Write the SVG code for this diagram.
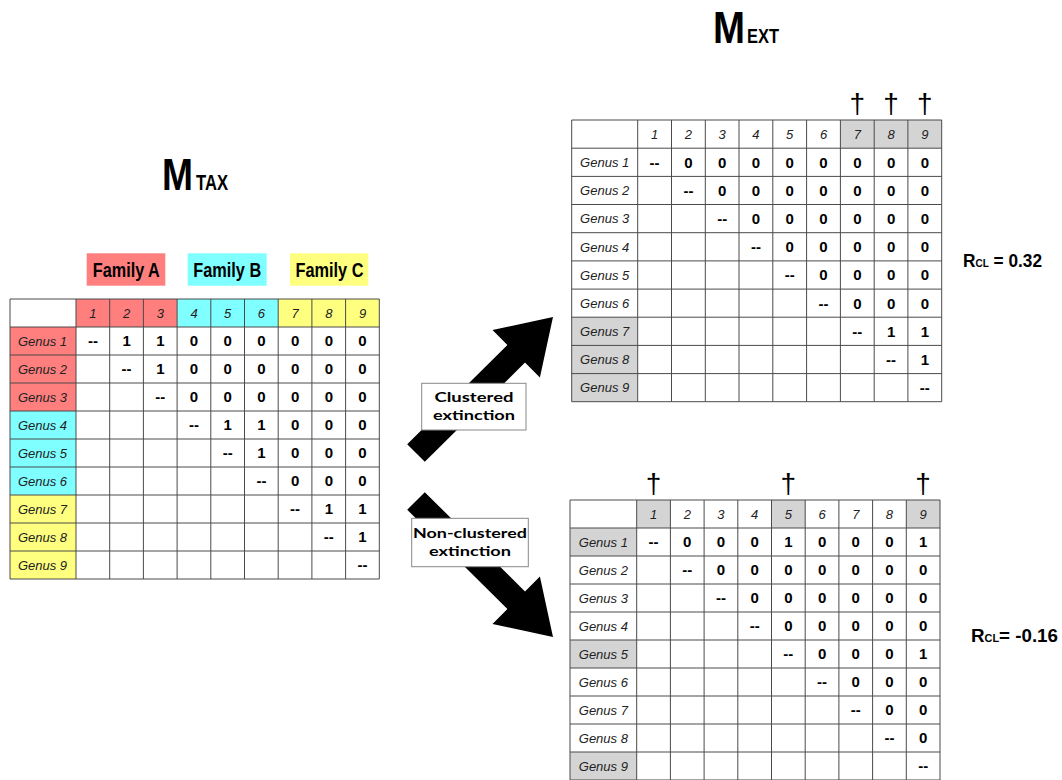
<svg xmlns="http://www.w3.org/2000/svg" width="1062" height="780" viewBox="0 0 1062 780">
<style>
.grid{fill:none;stroke:#4a4a4a;stroke-width:1}
.num{font-family:"Liberation Sans",Arial,sans-serif;font-weight:bold;font-size:15px;text-anchor:middle;fill:#000}
.hdr{font-family:"Liberation Sans",Arial,sans-serif;font-style:italic;font-size:13px;text-anchor:middle;fill:#222}
.gen{font-family:"Liberation Sans",Arial,sans-serif;font-style:italic;font-size:13px;text-anchor:middle;fill:#222}
.title{font-family:"Liberation Sans",Arial,sans-serif;font-weight:bold;fill:#000}
.fam{font-family:"Liberation Sans",Arial,sans-serif;font-weight:bold;font-size:20px;text-anchor:middle;fill:#000}
.dag{font-family:"Liberation Sans",Arial,sans-serif;font-size:28px;text-anchor:middle;fill:#000}
.lbl{font-family:Lato,"Open Sans",sans-serif;font-weight:bold;font-size:14px;text-anchor:middle;fill:#000}
.lblbox{fill:#fff;stroke:#888;stroke-width:1}
.arrow{fill:#000}
.red{fill:#FF7F7F}.cyan{fill:#7FFFFF}.yel{fill:#FFFF7F}.grey{fill:#D4D4D4}
</style>
<rect x="0" y="0" width="1062" height="780" fill="#fff"/>

<g id="title-mtax">
<text class="title" x="162" y="190" font-size="44" textLength="31" lengthAdjust="spacingAndGlyphs">M</text>
<text class="title" x="196" y="190" font-size="22" textLength="32" lengthAdjust="spacingAndGlyphs">TAX</text>
</g>
<g id="title-mext">
<text class="title" x="713" y="43" font-size="45" textLength="32" lengthAdjust="spacingAndGlyphs">M</text>
<text class="title" x="747" y="43" font-size="20" textLength="32" lengthAdjust="spacingAndGlyphs">EXT</text>
</g>

<g id="family-labels">
<rect class="red" x="86.7" y="253.3" width="78.6" height="32.4"/>
<text class="fam" x="126.3" y="277" textLength="67" lengthAdjust="spacingAndGlyphs">Family A</text>
<rect class="cyan" x="187.7" y="253.3" width="79" height="32.4"/>
<text class="fam" x="227.2" y="277" textLength="68" lengthAdjust="spacingAndGlyphs">Family B</text>
<rect class="yel" x="290" y="253.3" width="78.3" height="32.4"/>
<text class="fam" x="329.5" y="277" textLength="68" lengthAdjust="spacingAndGlyphs">Family C</text>
</g>

<g id="matrix-tax">
<rect x="10" y="299" width="66" height="28" fill="#fff"/>
<rect class="red" x="76" y="299" width="101.1" height="28"/>
<rect class="cyan" x="177.1" y="299" width="101.1" height="28"/>
<rect class="yel" x="278.2" y="299" width="101.1" height="28"/>
<rect class="red" x="10" y="327" width="66" height="84"/>
<rect class="cyan" x="10" y="411" width="66" height="84"/>
<rect class="yel" x="10" y="495" width="66" height="84"/>
<path class="grid" d="M10 299V579M76 299V579M109.7 299V579M143.4 299V579M177.1 299V579M210.8 299V579M244.5 299V579M278.2 299V579M311.9 299V579M345.6 299V579M379.3 299V579M10 299H379.3M10 327H379.3M10 355H379.3M10 383H379.3M10 411H379.3M10 439H379.3M10 467H379.3M10 495H379.3M10 523H379.3M10 551H379.3M10 579H379.3"/>
<g class="hdr">
<text x="92.9" y="317.7">1</text><text x="126.6" y="317.7">2</text><text x="160.3" y="317.7">3</text><text x="194" y="317.7">4</text><text x="227.7" y="317.7">5</text><text x="261.4" y="317.7">6</text><text x="295.1" y="317.7">7</text><text x="328.8" y="317.7">8</text><text x="362.5" y="317.7">9</text>
</g>
<g class="gen">
<text x="42.5" y="345.7">Genus 1</text><text x="42.5" y="373.7">Genus 2</text><text x="42.5" y="401.7">Genus 3</text><text x="42.5" y="429.7">Genus 4</text><text x="42.5" y="457.7">Genus 5</text><text x="42.5" y="485.7">Genus 6</text><text x="42.5" y="513.7">Genus 7</text><text x="42.5" y="541.7">Genus 8</text><text x="42.5" y="569.7">Genus 9</text>
</g>
<g class="num">
<text x="92.9" y="346.4">--</text><text x="126.6" y="346.4">1</text><text x="160.3" y="346.4">1</text><text x="194" y="346.4">0</text><text x="227.7" y="346.4">0</text><text x="261.4" y="346.4">0</text><text x="295.1" y="346.4">0</text><text x="328.8" y="346.4">0</text><text x="362.5" y="346.4">0</text>
<text x="126.6" y="374.4">--</text><text x="160.3" y="374.4">1</text><text x="194" y="374.4">0</text><text x="227.7" y="374.4">0</text><text x="261.4" y="374.4">0</text><text x="295.1" y="374.4">0</text><text x="328.8" y="374.4">0</text><text x="362.5" y="374.4">0</text>
<text x="160.3" y="402.4">--</text><text x="194" y="402.4">0</text><text x="227.7" y="402.4">0</text><text x="261.4" y="402.4">0</text><text x="295.1" y="402.4">0</text><text x="328.8" y="402.4">0</text><text x="362.5" y="402.4">0</text>
<text x="194" y="430.4">--</text><text x="227.7" y="430.4">1</text><text x="261.4" y="430.4">1</text><text x="295.1" y="430.4">0</text><text x="328.8" y="430.4">0</text><text x="362.5" y="430.4">0</text>
<text x="227.7" y="458.4">--</text><text x="261.4" y="458.4">1</text><text x="295.1" y="458.4">0</text><text x="328.8" y="458.4">0</text><text x="362.5" y="458.4">0</text>
<text x="261.4" y="486.4">--</text><text x="295.1" y="486.4">0</text><text x="328.8" y="486.4">0</text><text x="362.5" y="486.4">0</text>
<text x="295.1" y="514.4">--</text><text x="328.8" y="514.4">1</text><text x="362.5" y="514.4">1</text>
<text x="328.8" y="542.4">--</text><text x="362.5" y="542.4">1</text>
<text x="362.5" y="570.4">--</text>
</g>
</g>

<g id="connectors">
<polygon class="arrow" points="407.2,444.2 507.4,345 492.5,330.1 553,317 539.9,377.5 525,362.6 424.8,461.8"/>
<polygon class="arrow" points="407.2,509.8 507.4,609 492.5,623.9 553,637 539.9,576.5 525,591.4 424.8,492.2"/>
</g>

<g id="label-clustered">
<rect class="lblbox" x="421.7" y="383.3" width="104.3" height="46.7"/>
<text class="lbl" x="474" y="402" textLength="79" lengthAdjust="spacingAndGlyphs">Clustered</text>
<text class="lbl" x="474" y="419.5" textLength="82" lengthAdjust="spacingAndGlyphs">extinction</text>
</g>
<g id="label-nonclustered">
<rect class="lblbox" x="411.7" y="518.3" width="116.6" height="48.4"/>
<text class="lbl" x="470" y="537.5" textLength="114" lengthAdjust="spacingAndGlyphs">Non-clustered</text>
<text class="lbl" x="470" y="555.5" textLength="82" lengthAdjust="spacingAndGlyphs">extinction</text>
</g>

<g id="matrix-ext-clustered">
<rect x="571.7" y="120" width="369.9" height="281.7" fill="#fff"/>
<rect class="grey" x="840.4" y="120" width="101.3" height="28.2"/>
<rect class="grey" x="571.7" y="317.2" width="66" height="84.5"/>
<path class="grid" d="M571.7 120V401.7M637.7 120V401.7M671.5 120V401.7M705.3 120V401.7M739 120V401.7M772.8 120V401.7M806.6 120V401.7M840.4 120V401.7M874.2 120V401.7M907.9 120V401.7M941.7 120V401.7M571.7 120H941.7M571.7 148.2H941.7M571.7 176.4H941.7M571.7 204.5H941.7M571.7 232.7H941.7M571.7 260.9H941.7M571.7 289.1H941.7M571.7 317.2H941.7M571.7 345.4H941.7M571.7 373.6H941.7M571.7 401.7H941.7"/>
<g class="dag">
<text x="857.3" y="113">†</text><text x="891.1" y="113">†</text><text x="924.8" y="113">†</text>
</g>
<g class="hdr">
<text x="654.6" y="138.8">1</text><text x="688.4" y="138.8">2</text><text x="722.2" y="138.8">3</text><text x="755.9" y="138.8">4</text><text x="789.7" y="138.8">5</text><text x="823.5" y="138.8">6</text><text x="857.3" y="138.8">7</text><text x="891.1" y="138.8">8</text><text x="924.8" y="138.8">9</text>
</g>
<g class="gen">
<text x="604.7" y="167">Genus 1</text><text x="604.7" y="195.2">Genus 2</text><text x="604.7" y="223.3">Genus 3</text><text x="604.7" y="251.5">Genus 4</text><text x="604.7" y="279.7">Genus 5</text><text x="604.7" y="307.9">Genus 6</text><text x="604.7" y="336">Genus 7</text><text x="604.7" y="364.2">Genus 8</text><text x="604.7" y="392.4">Genus 9</text>
</g>
<g class="num">
<text x="654.6" y="167.7">--</text><text x="688.4" y="167.7">0</text><text x="722.2" y="167.7">0</text><text x="755.9" y="167.7">0</text><text x="789.7" y="167.7">0</text><text x="823.5" y="167.7">0</text><text x="857.3" y="167.7">0</text><text x="891.1" y="167.7">0</text><text x="924.8" y="167.7">0</text>
<text x="688.4" y="195.9">--</text><text x="722.2" y="195.9">0</text><text x="755.9" y="195.9">0</text><text x="789.7" y="195.9">0</text><text x="823.5" y="195.9">0</text><text x="857.3" y="195.9">0</text><text x="891.1" y="195.9">0</text><text x="924.8" y="195.9">0</text>
<text x="722.2" y="224">--</text><text x="755.9" y="224">0</text><text x="789.7" y="224">0</text><text x="823.5" y="224">0</text><text x="857.3" y="224">0</text><text x="891.1" y="224">0</text><text x="924.8" y="224">0</text>
<text x="755.9" y="252.2">--</text><text x="789.7" y="252.2">0</text><text x="823.5" y="252.2">0</text><text x="857.3" y="252.2">0</text><text x="891.1" y="252.2">0</text><text x="924.8" y="252.2">0</text>
<text x="789.7" y="280.4">--</text><text x="823.5" y="280.4">0</text><text x="857.3" y="280.4">0</text><text x="891.1" y="280.4">0</text><text x="924.8" y="280.4">0</text>
<text x="823.5" y="308.6">--</text><text x="857.3" y="308.6">0</text><text x="891.1" y="308.6">0</text><text x="924.8" y="308.6">0</text>
<text x="857.3" y="336.7">--</text><text x="891.1" y="336.7">1</text><text x="924.8" y="336.7">1</text>
<text x="891.1" y="364.9">--</text><text x="924.8" y="364.9">1</text>
<text x="924.8" y="393.1">--</text>
</g>
</g>
<g id="rcl-clustered">
<text class="title" x="963" y="267" font-size="19" textLength="79" lengthAdjust="spacingAndGlyphs">R<tspan font-size="11">CL</tspan> = 0.32</text>
</g>

<g id="matrix-ext-nonclustered">
<rect x="570" y="500" width="370" height="280" fill="#fff"/>
<rect class="grey" x="636.7" y="500" width="33.7" height="28"/>
<rect class="grey" x="771.5" y="500" width="33.7" height="28"/>
<rect class="grey" x="906.3" y="500" width="33.7" height="28"/>
<rect class="grey" x="570" y="528" width="66.7" height="28"/>
<rect class="grey" x="570" y="640" width="66.7" height="28"/>
<rect class="grey" x="570" y="752" width="66.7" height="28"/>
<path class="grid" d="M570 500V780M636.7 500V780M670.4 500V780M704.1 500V780M737.8 500V780M771.5 500V780M805.2 500V780M838.9 500V780M872.6 500V780M906.3 500V780M940 500V780M570 500H940M570 528H940M570 556H940M570 584H940M570 612H940M570 640H940M570 668H940M570 696H940M570 724H940M570 752H940M570 780H940"/>
<g class="dag">
<text x="653.55" y="493">†</text><text x="788.35" y="493">†</text><text x="923.15" y="493">†</text>
</g>
<g class="hdr">
<text x="653.55" y="518.7">1</text><text x="687.25" y="518.7">2</text><text x="720.95" y="518.7">3</text><text x="754.65" y="518.7">4</text><text x="788.35" y="518.7">5</text><text x="822.05" y="518.7">6</text><text x="855.75" y="518.7">7</text><text x="889.45" y="518.7">8</text><text x="923.15" y="518.7">9</text>
</g>
<g class="gen">
<text x="603.35" y="546.7">Genus 1</text><text x="603.35" y="574.7">Genus 2</text><text x="603.35" y="602.7">Genus 3</text><text x="603.35" y="630.7">Genus 4</text><text x="603.35" y="658.7">Genus 5</text><text x="603.35" y="686.7">Genus 6</text><text x="603.35" y="714.7">Genus 7</text><text x="603.35" y="742.7">Genus 8</text><text x="603.35" y="770.7">Genus 9</text>
</g>
<g class="num">
<text x="653.55" y="547.4">--</text><text x="687.25" y="547.4">0</text><text x="720.95" y="547.4">0</text><text x="754.65" y="547.4">0</text><text x="788.35" y="547.4">1</text><text x="822.05" y="547.4">0</text><text x="855.75" y="547.4">0</text><text x="889.45" y="547.4">0</text><text x="923.15" y="547.4">1</text>
<text x="687.25" y="575.4">--</text><text x="720.95" y="575.4">0</text><text x="754.65" y="575.4">0</text><text x="788.35" y="575.4">0</text><text x="822.05" y="575.4">0</text><text x="855.75" y="575.4">0</text><text x="889.45" y="575.4">0</text><text x="923.15" y="575.4">0</text>
<text x="720.95" y="603.4">--</text><text x="754.65" y="603.4">0</text><text x="788.35" y="603.4">0</text><text x="822.05" y="603.4">0</text><text x="855.75" y="603.4">0</text><text x="889.45" y="603.4">0</text><text x="923.15" y="603.4">0</text>
<text x="754.65" y="631.4">--</text><text x="788.35" y="631.4">0</text><text x="822.05" y="631.4">0</text><text x="855.75" y="631.4">0</text><text x="889.45" y="631.4">0</text><text x="923.15" y="631.4">0</text>
<text x="788.35" y="659.4">--</text><text x="822.05" y="659.4">0</text><text x="855.75" y="659.4">0</text><text x="889.45" y="659.4">0</text><text x="923.15" y="659.4">1</text>
<text x="822.05" y="687.4">--</text><text x="855.75" y="687.4">0</text><text x="889.45" y="687.4">0</text><text x="923.15" y="687.4">0</text>
<text x="855.75" y="715.4">--</text><text x="889.45" y="715.4">0</text><text x="923.15" y="715.4">0</text>
<text x="889.45" y="743.4">--</text><text x="923.15" y="743.4">0</text>
<text x="923.15" y="771.4">--</text>
</g>
</g>
<g id="rcl-nonclustered">
<text class="title" x="971" y="642" font-size="19" textLength="87" lengthAdjust="spacingAndGlyphs">R<tspan font-size="11">CL</tspan>= -0.16</text>
</g>
</svg>
